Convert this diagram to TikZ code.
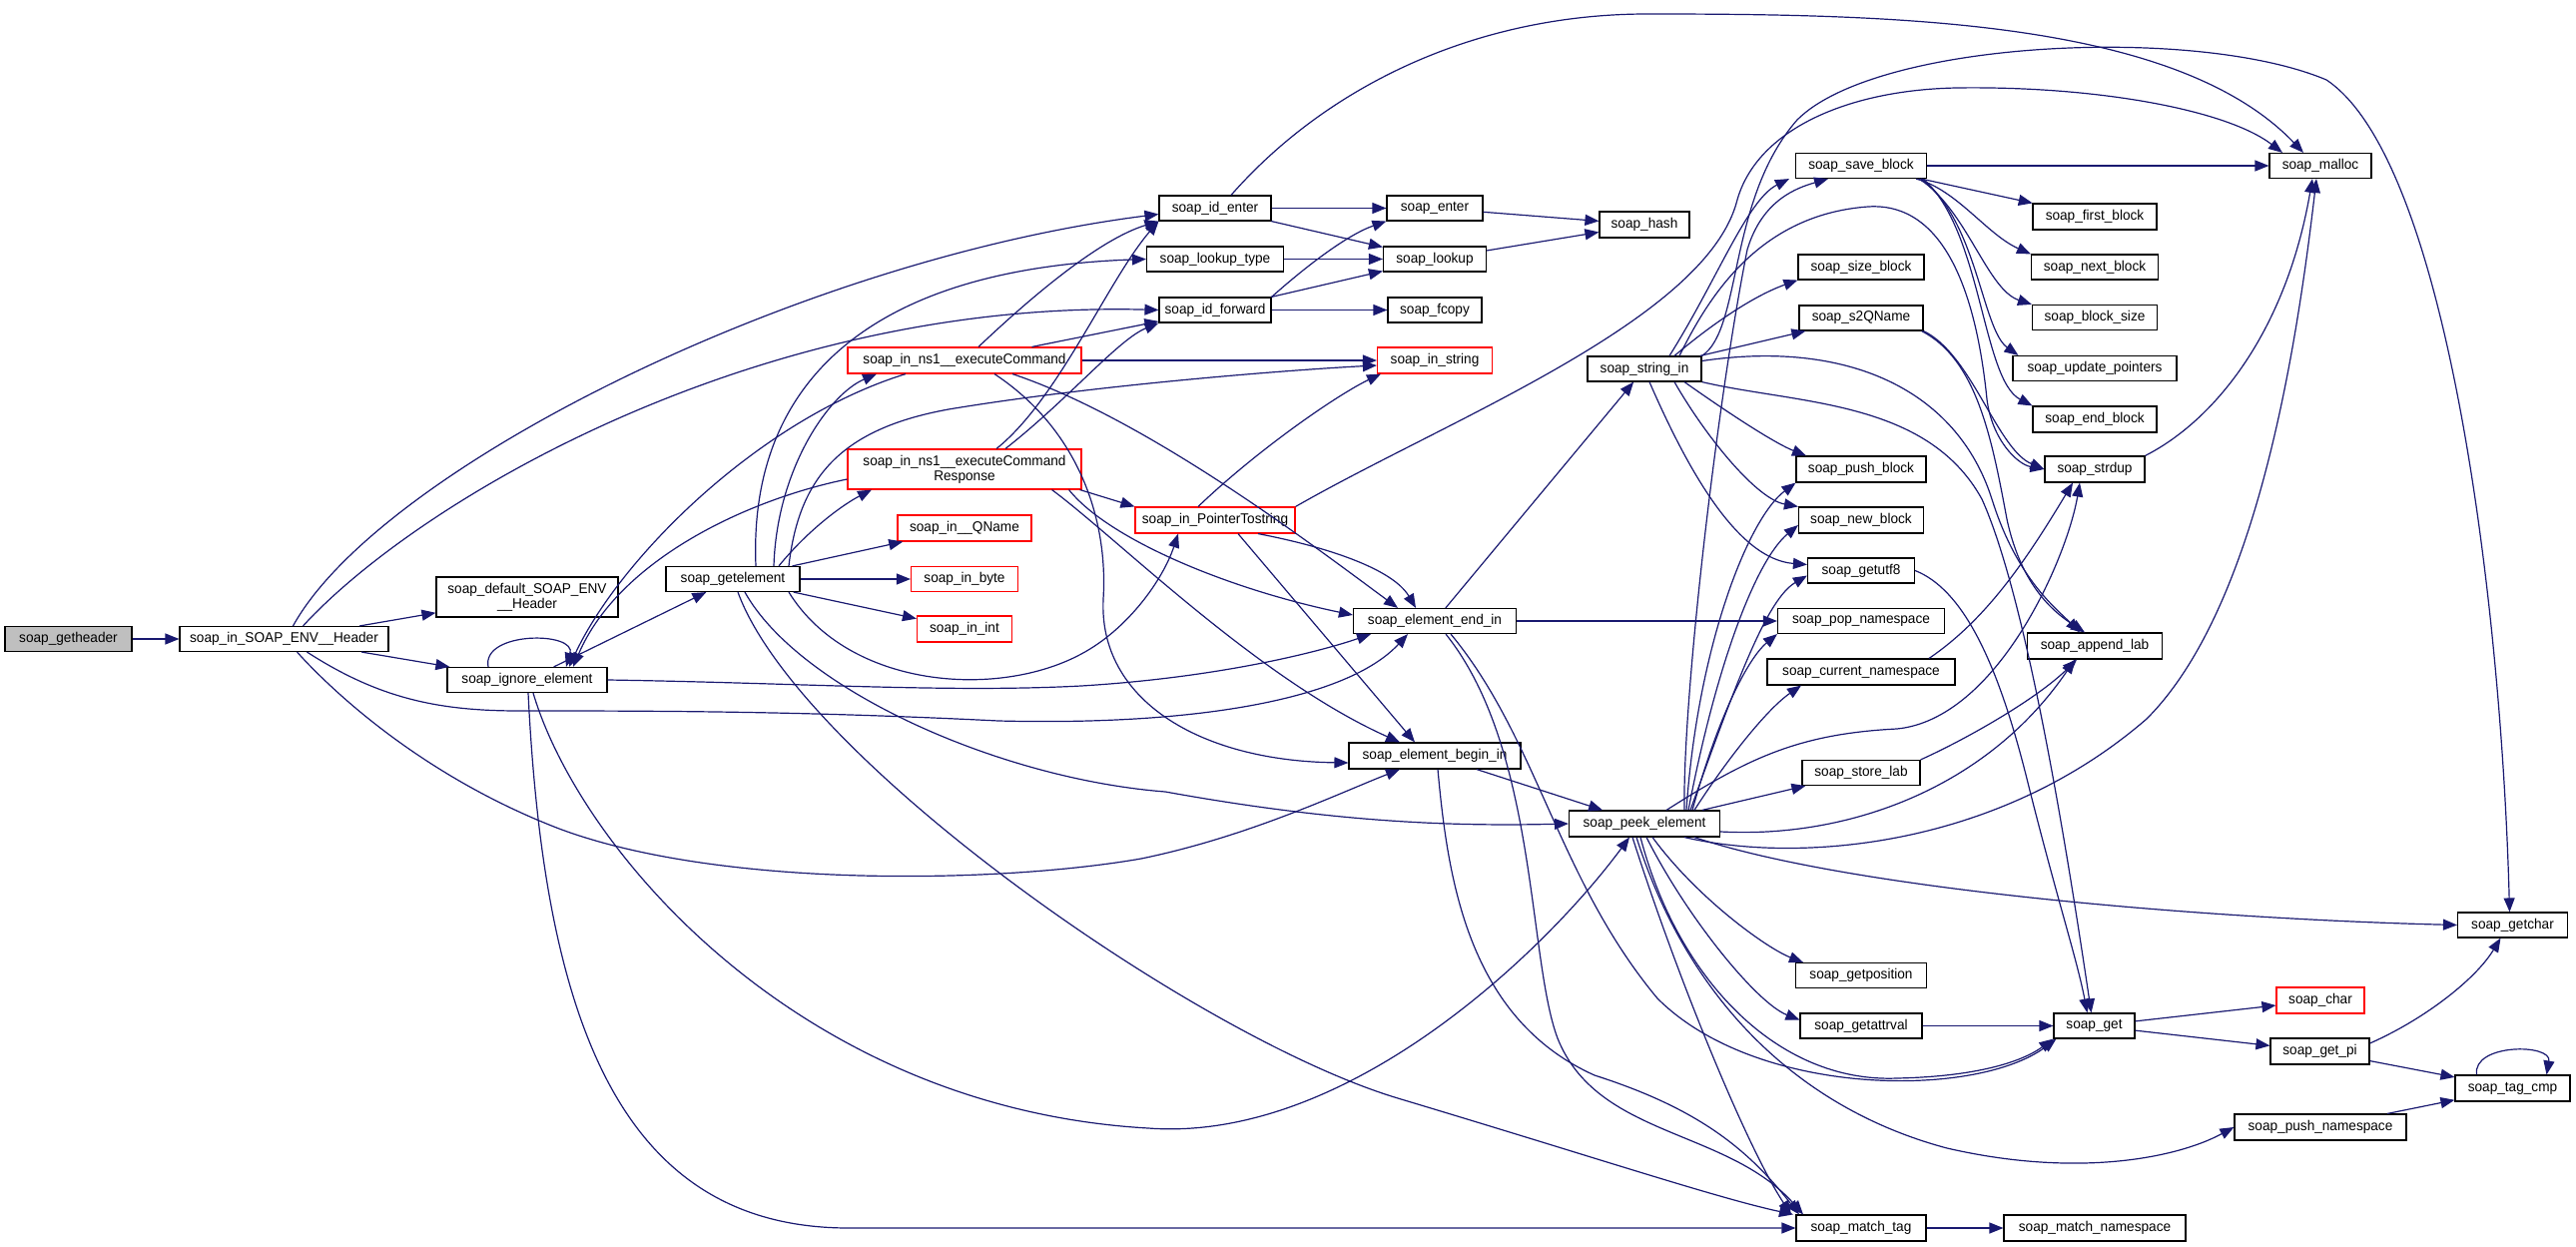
\documentclass[tikz,border=0pt]{standalone}
\usepackage{fontspec}
\newfontfamily\nodefont[FakeStretch=0.96]{Liberation Sans}
\usetikzlibrary{arrows.meta}
\definecolor{edgeblue}{HTML}{191970}
\definecolor{grayfill}{HTML}{BFBFBF}
\tikzset{
 nd/.style={draw=black, line width=1.15pt, fill=white, rectangle, inner sep=0pt, align=center,
   font={\nodefont\fontsize{14.2pt}{15pt}\selectfont}},
 rd/.style={nd, draw=red},
 gr/.style={nd, fill=grayfill},
 ar/.style={draw=edgeblue, line width=1.2pt, -{Triangle[length=14pt,width=11pt]}},
}
\newcommand{\nbox}[6][nd]{\node[#1, minimum width=#5pt, minimum height=#6pt] (#2) at (#3) {#4};}
\begin{document}
\begin{tikzpicture}[x=1pt,y=-1pt]
\useasboundingbox (0,0) rectangle (2580,1249);
% nodes
\nbox[gr]{gh}{68.5,640}{soap\_getheader}{127}{25}
\nbox{H}{284.5,640}{soap\_in\_SOAP\_ENV\_\_Header}{209}{25}
\nbox{def}{528,598}{soap\_default\_SOAP\_ENV\\\_\_Header}{182}{40}
\nbox{ign}{528,681}{soap\_ignore\_element}{160}{25}
\nbox{gel}{734,580}{soap\_getelement}{134}{25}
\nbox[rd]{ec}{966,361}{soap\_in\_ns1\_\_executeCommand}{234}{26}
\nbox[rd]{ecr}{966,470}{soap\_in\_ns1\_\_executeCommand\\Response}{234}{40}
\nbox[rd]{qn}{966,529}{soap\_in\_\_QName}{134}{26}
\nbox[rd]{byte}{966,580}{soap\_in\_byte}{107}{25}
\nbox[rd]{int}{966,630}{soap\_in\_int}{95}{26}
\nbox{ide}{1217,208.5}{soap\_id\_enter}{112}{25}
\nbox{lt}{1217,259.5}{soap\_lookup\_type}{137}{25}
\nbox{idf}{1217,310.5}{soap\_id\_forward}{112}{25}
\nbox[rd]{pt}{1217,521}{soap\_in\_PointerTostring}{160}{26}
\nbox{ent}{1437,208.5}{soap\_enter}{96}{25}
\nbox{lk}{1437,259.5}{soap\_lookup}{103}{25}
\nbox{fc}{1437,310.5}{soap\_fcopy}{94}{25}
\nbox[rd]{ins}{1437,361}{soap\_in\_string}{115}{26}
\nbox{eei}{1437,622}{soap\_element\_end\_in}{163}{25}
\nbox{ebi}{1437,757}{soap\_element\_begin\_in}{172}{26}
\nbox{hash}{1647,225}{soap\_hash}{90}{26}
\nbox{sin}{1647,369.5}{soap\_string\_in}{114}{25}
\nbox{pk}{1647,825}{soap\_peek\_element}{151}{26}
\nbox{sb}{1864,166}{soap\_save\_block}{131}{25}
\nbox{szb}{1864,267.5}{soap\_size\_block}{126}{25}
\nbox{s2q}{1864,318.5}{soap\_s2QName}{124}{25}
\nbox{pb}{1864,470}{soap\_push\_block}{130}{26}
\nbox{nb}{1864,521}{soap\_new\_block}{125}{26}
\nbox{u8}{1864,571.5}{soap\_getutf8}{107}{25}
\nbox{pop}{1864,622}{soap\_pop\_namespace}{167}{25}
\nbox{cur}{1864,673}{soap\_current\_namespace}{188}{26}
\nbox{st}{1864,774}{soap\_store\_lab}{118}{25}
\nbox{gp}{1864,977}{soap\_getposition}{131}{25}
\nbox{gav}{1864,1027.5}{soap\_getattrval}{122}{25}
\nbox{mt}{1864,1230}{soap\_match\_tag}{130}{26}
\nbox{fb}{2098,217}{soap\_first\_block}{124}{26}
\nbox{nxb}{2098,267.5}{soap\_next\_block}{127}{25}
\nbox{bs}{2098,318}{soap\_block\_size}{125}{25}
\nbox{up}{2098,369}{soap\_update\_pointers}{164}{25}
\nbox{eb}{2098,420}{soap\_end\_block}{124}{26}
\nbox{sd}{2098,470}{soap\_strdup}{100}{26}
\nbox{al}{2098,647}{soap\_append\_lab}{135}{26}
\nbox{get}{2097.5,1027.5}{soap\_get}{81}{25}
\nbox{mn}{2098,1230}{soap\_match\_namespace}{182}{26}
\nbox{mal}{2324,166}{soap\_malloc}{102}{25}
\nbox[rd]{chr}{2324,1002}{soap\_char}{88}{26}
\nbox{gpi}{2323.5,1053}{soap\_get\_pi}{99}{26}
\nbox{pn}{2324,1129}{soap\_push\_namespace}{172}{26}
\nbox{gc}{2516.5,926.5}{soap\_getchar}{110}{25}
\nbox{tc}{2516.5,1090}{soap\_tag\_cmp}{115}{26}
% edges
\draw[ar] (gh) -- (H);
\draw[ar] (H) -- (def);
\draw[ar] (H) -- (ign);
\draw[ar] ([xshift=9pt]H.north) .. controls (380,470) and (800,260) .. ([yshift=-6pt]ide.west);
\draw[ar] ([xshift=19pt]H.north) .. controls (420,500) and (760,300) .. (idf.west);
\draw[ar] ([xshift=23pt]H.south) .. controls (380,700) and (440,712) .. (520,712) .. controls (650,712) and (800,712) .. (1000,722) .. controls (1200,727) and (1350,700) .. ([xshift=-27pt]eei.south);
\draw[ar] ([xshift=13pt]H.south) .. controls (340,700) and (430,780) .. (560,830) .. controls (720,890) and (1000,885) .. (1143,860) .. controls (1250,838) and (1340,795) .. ([xshift=-35pt]ebi.south);
% ignore_element
\draw[ar] (ign) -- (gel);
\draw[ar] ([xshift=-39pt]ign.north) .. controls (482,632) and (578,632) .. ([xshift=39pt]ign.north);
\draw[ar] (ign.east) .. controls (800,684) and (950,694) .. (1083,687) .. controls (1230,678) and (1330,650) .. ([xshift=-64pt]eei.south);
\draw[ar] ([xshift=6pt]ign.south) .. controls (580,850) and (800,1110) .. (1150,1130) .. controls (1350,1145) and (1550,950) .. ([xshift=-15pt]pk.south);
\draw[ar] ([xshift=1pt]ign.south) .. controls (545,1020) and (620,1230) .. (850,1230) -- (mt.west);
% getelement
\draw[ar] (gel) -- (qn);
\draw[ar] (gel) -- (byte);
\draw[ar] (gel) -- (int);
\draw[ar] ([xshift=46pt]gel.north) .. controls (810,530) and (845,505) .. ([xshift=-93pt]ecr.south);
\draw[ar] ([xshift=41pt]gel.north) .. controls (778,470) and (830,395) .. ([xshift=-88pt]ec.south);
\draw[ar] ([xshift=56pt]gel.north) .. controls (800,480) and (840,430) .. (950,410) .. controls (1100,385) and (1300,370) .. ([yshift=-5pt]ins.west);
\draw[ar] ([xshift=23pt]gel.north) .. controls (750,400) and (850,270) .. (lt.west);
\draw[ar] ([xshift=56pt]gel.south) .. controls (850,690) and (1000,700) .. (1083,655) .. controls (1130,630) and (1165,580) .. ([xshift=-37pt]pt.south);
\draw[ar] ([xshift=12pt]gel.south) .. controls (800,690) and (1000,780) .. (1167,793) .. controls (1333,823) and (1450,828) .. (pk.west);
\draw[ar] ([xshift=5pt]gel.south) .. controls (800,760) and (1200,1040) .. (1400,1100) .. controls (1600,1160) and (1720,1200) .. ([xshift=-68pt]mt.north);
% executeCommand
\draw[ar] (ec) -- (ins);
\draw[ar] (ec) -- (idf);
\draw[ar] ([xshift=14pt]ec.north) .. controls (1030,300) and (1100,240) .. (ide.south west);
\draw[ar] ([xshift=48pt]ec.south) .. controls (1150,420) and (1320,550) .. ([xshift=-37pt]eei.north);
\draw[ar] ([xshift=30pt]ec.south) .. controls (1080,430) and (1110,520) .. (1105,600) .. controls (1100,700) and (1200,762) .. ([yshift=-7pt]ebi.west);
\draw[ar] ([xshift=-59pt]ec.south) .. controls (760,420) and (620,560) .. ([xshift=42pt]ign.north);
% executeCommandResponse
\draw[ar] ([xshift=-2pt]ecr.south east) -- (pt.north west);
\draw[ar] ([xshift=32pt]ecr.north) .. controls (1060,400) and (1110,280) .. (ide.south west);
\draw[ar] ([xshift=41pt]ecr.north) .. controls (1070,400) and (1120,340) .. (idf.south west);
\draw[ar] ([xshift=-13pt]ecr.south east) .. controls (1110,540) and (1230,590) .. ([yshift=6pt]eei.west);
\draw[ar] ([xshift=-30pt]ecr.south east) .. controls (1120,540) and (1260,680) .. ([xshift=-35pt]ebi.north);
\draw[ar] ([yshift=-10pt]ecr.west) .. controls (750,500) and (620,560) .. ([xshift=46pt]ign.north);
% PointerTostring
\draw[ar] ([xshift=-17pt]pt.north) .. controls (1260,450) and (1340,395) .. ([xshift=-54pt]ins.south);
\draw[ar] ([xshift=43pt]pt.south) .. controls (1330,548) and (1395,570) .. ([xshift=-19pt]eei.north);
\draw[ar] ([xshift=23pt]pt.south) -- ([xshift=-20pt]ebi.north);
\draw[ar] (pt.north east) .. controls (1450,420) and (1710,320) .. (1740,200) .. controls (1760,130) and (1850,90) .. (1960,88) .. controls (2100,86) and (2230,110) .. ([xshift=-38pt]mal.north);
% id_enter / id_forward / lookup
\draw[ar] (ide) -- (ent);
\draw[ar] (ide) -- (lk);
\draw[ar] (idf.north east) .. controls (1310,265) and (1350,235) .. (ent.south west);
\draw[ar] (idf) -- (lk);
\draw[ar] (idf) -- (fc);
\draw[ar] (lt) -- (lk);
\draw[ar] (ent) -- (hash);
\draw[ar] (lk) -- (hash);
\draw[ar] ([xshift=16pt]ide.north) .. controls (1330,85) and (1480,14) .. (1650,14) .. controls (1900,14) and (2180,20) .. ([xshift=-17pt]mal.north);
% string_in
\draw[ar] (sin.north east) .. controls (1745,330) and (1730,200) .. (1800,120) .. controls (1880,40) and (2200,25) .. (2330,80) .. controls (2450,160) and (2505,600) .. ([xshift=-3pt]gc.north);
\draw[ar] ([xshift=25pt]sin.north) .. controls (1720,280) and (1750,200) .. ([xshift=-72pt]sb.south);
\draw[ar] ([xshift=30pt]sin.north) .. controls (1720,320) and (1760,295) .. (szb.south west);
\draw[ar] (sin) -- (s2q);
\draw[ar] ([xshift=40pt]sin.south) .. controls (1740,420) and (1780,445) .. ([xshift=-55pt]pb.north);
\draw[ar] ([xshift=30pt]sin.south) .. controls (1710,440) and (1760,500) .. (nb.north west);
\draw[ar] ([xshift=5pt]sin.south) .. controls (1690,470) and (1740,560) .. ([yshift=6pt]u8.west);
\draw[ar] (sin.south east) .. controls (1800,405) and (1930,400) .. (1985,500) .. controls (2030,600) and (2070,850) .. ([xshift=-3pt]get.north);
\draw[ar] ([yshift=8pt]sin.east) .. controls (1850,340) and (1960,390) .. (1995,500) .. controls (2020,580) and (2060,610) .. ([xshift=-15pt]al.north);
\draw[ar] ([xshift=35pt]sin.north) .. controls (1710,300) and (1760,215) .. (1871,207) .. controls (1950,202) and (1980,300) .. (1990,400) .. controls (1995,440) and (2020,465) .. (sd.west);
% save_block
\draw[ar] (sb) -- (mal);
\draw[ar] (sb) -- (fb);
\draw[ar] ([xshift=55pt]sb.south) .. controls (1960,190) and (1990,235) .. (nxb.north west);
\draw[ar] ([xshift=58pt]sb.south) .. controls (1970,210) and (1990,290) .. (bs.north west);
\draw[ar] ([xshift=60pt]sb.south) .. controls (1980,220) and (1985,330) .. ([xshift=6pt]up.north west);
\draw[ar] ([xshift=62pt]sb.south) .. controls (1985,230) and (1985,380) .. (eb.north west);
% s2QName
\draw[ar] (s2q.south east) .. controls (1975,355) and (2000,450) .. (sd.west);
\draw[ar] ([xshift=-2pt]s2q.south east) .. controls (1980,360) and (1995,440) .. (2010,520) .. controls (2025,590) and (2060,615) .. ([xshift=-10pt]al.north);
% getutf8
\draw[ar] (u8.east) .. controls (1965,590) and (2000,660) .. (2030,780) .. controls (2060,900) and (2080,960) .. ([xshift=-7pt]get.north);
% peek_element
\draw[ar] ([xshift=40pt]pk.north) .. controls (1685,700) and (1720,400) .. (1750,250) .. controls (1765,200) and (1800,188) .. ([xshift=-33pt]sb.south);
\draw[ar] ([xshift=42pt]pk.north) .. controls (1700,650) and (1750,520) .. (pb.south west);
\draw[ar] ([xshift=44pt]pk.north) .. controls (1720,660) and (1760,560) .. ([yshift=-5pt]nb.west);
\draw[ar] ([xshift=46pt]pk.north) .. controls (1740,680) and (1770,600) .. ([yshift=-5pt]u8.west);
\draw[ar] ([xshift=48pt]pk.north) .. controls (1720,720) and (1750,660) .. (pop.south west);
\draw[ar] ([xshift=50pt]pk.north) .. controls (1730,760) and (1770,710) .. ([xshift=-60pt]cur.south);
\draw[ar] (pk) -- (st);
\draw[ar] ([xshift=22pt]pk.north) .. controls (1750,760) and (1800,735) .. (1900,730) .. controls (2000,720) and (2070,560) .. ([xshift=-15pt]sd.south);
\draw[ar] ([yshift=-8pt]pk.east) .. controls (1850,840) and (1990,790) .. ([xshift=-20pt]al.south);
\draw[ar] ([xshift=40pt]pk.south) .. controls (1800,865) and (2000,850) .. (2150,720) .. controls (2260,610) and (2300,350) .. ([xshift=-4pt]mal.south);
\draw[ar] ([xshift=50pt]pk.south) .. controls (1850,890) and (2200,920) .. (gc.west);
\draw[ar] ([xshift=8pt]pk.south) .. controls (1700,900) and (1770,950) .. ([xshift=-58pt]gp.north);
\draw[ar] ([xshift=2pt]pk.south) .. controls (1690,920) and (1760,1005) .. ([yshift=6pt]gav.west);
\draw[ar] ([xshift=-4pt]pk.south) .. controls (1680,980) and (1780,1085) .. (1900,1080) .. controls (1990,1078) and (2030,1060) .. (get.south west);
\draw[ar] ([xshift=-8pt]pk.south) .. controls (1690,1000) and (1800,1110) .. (1950,1150) .. controls (2080,1180) and (2180,1160) .. (pn.west);
\draw[ar] ([xshift=-12pt]pk.south) .. controls (1680,980) and (1750,1150) .. ([xshift=-70pt]mt.north);
% element_end_in / begin_in
\draw[ar] (eei) -- (pop);
\draw[ar] (eei) -- (sin);
\draw[ar] ([xshift=16pt]eei.south) .. controls (1540,740) and (1560,880) .. (1660,1000) .. controls (1760,1100) and (1980,1100) .. ([xshift=3pt]get.south west);
\draw[ar] ([xshift=11pt]eei.south) .. controls (1540,750) and (1530,960) .. (1560,1040) .. controls (1600,1140) and (1730,1130) .. ([xshift=-58pt]mt.north);
\draw[ar] (ebi) -- (pk);
\draw[ar] ([xshift=3pt]ebi.south) .. controls (1450,880) and (1470,1020) .. (1597,1077) .. controls (1700,1110) and (1750,1150) .. ([xshift=-62pt]mt.north);
% lower right
\draw[ar] (mt) -- (mn);
\draw[ar] (gav) -- (get);
\draw[ar] (get) -- (chr);
\draw[ar] (get) -- (gpi);
\draw[ar] ([yshift=8pt]gpi.east) .. controls (2430,1020) and (2480,980) .. ([xshift=-12pt]gc.south);
\draw[ar] (gpi) -- (tc);
\draw[ar] (pn) -- (tc);
\draw[ar] ([xshift=-36pt]tc.north) .. controls (2476,1045) and (2556,1045) .. ([xshift=34pt]tc.north);
\draw[ar] (st.north east) .. controls (1970,740) and (2040,700) .. ([xshift=-18pt]al.south);
\draw[ar] ([xshift=68pt]cur.north) .. controls (1990,620) and (2030,560) .. ([xshift=-22pt]sd.south);
\draw[ar] (sd.north east) .. controls (2220,420) and (2290,330) .. ([xshift=-8pt]mal.south);
\end{tikzpicture}
\end{document}
